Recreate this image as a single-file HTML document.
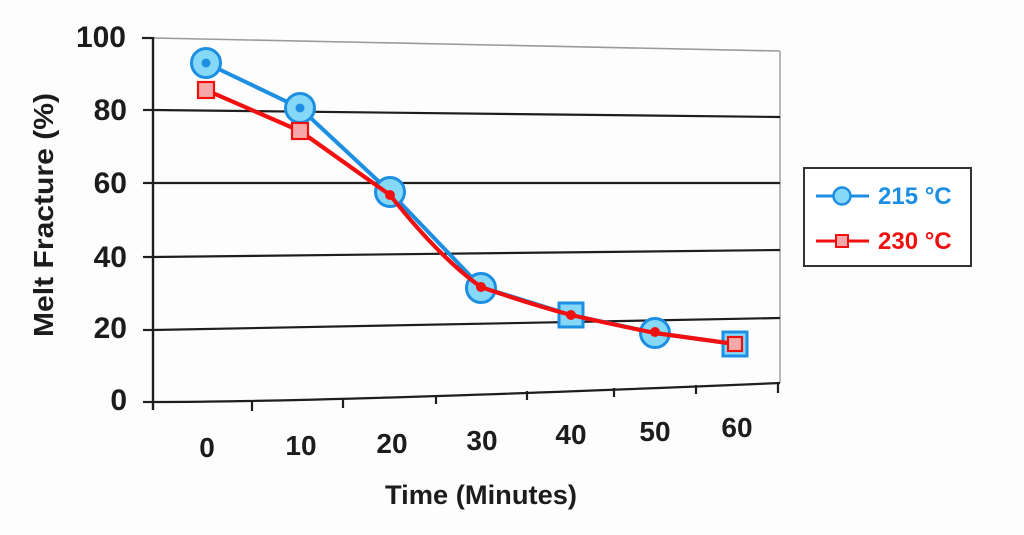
<!DOCTYPE html>
<html>
<head>
<meta charset="utf-8">
<style>
  html, body { margin:0; padding:0; background:#fdfdfd; }
  body { width:1024px; height:535px; overflow:hidden; }
  svg { display:block; }
  text { font-family: "Liberation Sans", Arial, sans-serif; font-weight:bold; }
</style>
</head>
<body>
<svg width="1024" height="535" viewBox="0 0 1024 535" xmlns="http://www.w3.org/2000/svg">
  <rect x="0" y="0" width="1024" height="535" fill="#fdfdfd"/>

  <!-- top border (100) and right border -->
  <line x1="153" y1="38" x2="780" y2="51" stroke="#9a9a9a" stroke-width="1.6"/>
  <line x1="780" y1="51" x2="780" y2="383" stroke="#a8a8a8" stroke-width="1.6"/>

  <!-- gridlines -->
  <line x1="153" y1="110" x2="780" y2="117" stroke="#1e1e1e" stroke-width="2.2"/>
  <line x1="153" y1="183" x2="780" y2="183" stroke="#1e1e1e" stroke-width="2.2"/>
  <line x1="153" y1="257" x2="780" y2="250" stroke="#1e1e1e" stroke-width="2.2"/>
  <path d="M153,330 Q420,324 780,318" fill="none" stroke="#1e1e1e" stroke-width="2.2"/>
  <!-- x axis -->
  <path d="M153,402 Q330,402 780,383" fill="none" stroke="#1e1e1e" stroke-width="2.2"/>

  <!-- y axis -->
  <line x1="153" y1="37" x2="153" y2="410" stroke="#1e1e1e" stroke-width="2.4"/>
  <!-- y ticks -->
  <g stroke="#1e1e1e" stroke-width="2.2">
    <line x1="142" y1="38" x2="153" y2="38"/>
    <line x1="143" y1="110" x2="153" y2="110"/>
    <line x1="143" y1="183" x2="153" y2="183"/>
    <line x1="143" y1="257" x2="153" y2="257"/>
    <line x1="143" y1="330" x2="153" y2="330"/>
    <line x1="143" y1="402" x2="153" y2="402"/>
  </g>
  <!-- x ticks -->
  <g stroke="#1e1e1e" stroke-width="2.2">
    <line x1="252" y1="402" x2="252" y2="411"/>
    <line x1="343" y1="399" x2="343" y2="408"/>
    <line x1="436" y1="395" x2="436" y2="404"/>
    <line x1="527" y1="391" x2="527" y2="400"/>
    <line x1="614" y1="388" x2="614" y2="397"/>
    <line x1="696" y1="385" x2="696" y2="394"/>
    <line x1="778" y1="383" x2="778" y2="393"/>
  </g>

  <!-- y tick labels -->
  <g font-size="30" fill="#1c1c1c" text-anchor="end">
    <text x="126" y="47">100</text>
    <text x="127" y="120">80</text>
    <text x="127" y="193">60</text>
    <text x="127" y="267">40</text>
    <text x="127" y="338">20</text>
    <text x="127" y="410">0</text>
  </g>

  <!-- x tick labels -->
  <g font-size="28" fill="#1c1c1c" text-anchor="middle">
    <text x="207" y="457">0</text>
    <text x="301" y="455">10</text>
    <text x="392" y="453">20</text>
    <text x="482" y="450">30</text>
    <text x="571" y="444">40</text>
    <text x="655" y="441">50</text>
    <text x="737" y="437">60</text>
  </g>

  <!-- axis titles -->
  <text x="385" y="504" font-size="27" fill="#1c1c1c" textLength="192" lengthAdjust="spacingAndGlyphs">Time (Minutes)</text>
  <text transform="translate(53,337) rotate(-90)" font-size="28" fill="#1c1c1c" textLength="244" lengthAdjust="spacingAndGlyphs">Melt Fracture (%)</text>

  <!-- 215 series (blue) -->
  <polyline points="206,63 300,108 390,192 481,287 571,315 655,333 735,344" fill="none" stroke="#1c8fe2" stroke-width="4" stroke-linejoin="round"/>
  <g fill="#86d8f7" stroke="#1c8fe2" stroke-width="3">
    <circle cx="206" cy="63" r="14.5"/>
    <circle cx="300" cy="108" r="14.5"/>
    <circle cx="390" cy="192" r="14.5"/>
    <circle cx="481" cy="288" r="14.5"/>
    <rect x="559" y="303" width="24" height="24"/>
    <circle cx="655" cy="333" r="14.5"/>
    <rect x="723" y="332" width="24" height="24"/>
  </g>
  <g fill="#1c8fe2">
    <circle cx="206" cy="63" r="4.5"/>
    <circle cx="300" cy="108" r="4.5"/>
  </g>

  <!-- 230 series (red) -->
  <path d="M206,90 L300,131 L390,195 Q440,258 481,287 Q530,304 571,315 Q620,326 655,333 L735,344" fill="none" stroke="#f01010" stroke-width="4.2" stroke-linejoin="round"/>
  <g fill="#f7a9a9" stroke="#f01010" stroke-width="2.2">
    <rect x="198" y="82" width="16" height="16"/>
    <rect x="292" y="123" width="16" height="16"/>
    <rect x="728" y="337" width="14" height="14"/>
  </g>
  <g fill="#f01010">
    <circle cx="390" cy="195" r="5"/>
    <circle cx="481" cy="287" r="5"/>
    <circle cx="571" cy="315" r="5"/>
    <circle cx="655" cy="332" r="5"/>
  </g>

  <!-- legend -->
  <rect x="804" y="168" width="167" height="98" fill="#fff" stroke="#333" stroke-width="2"/>
  <line x1="816" y1="196" x2="869" y2="196" stroke="#1c8fe2" stroke-width="3"/>
  <circle cx="842" cy="196" r="8.5" fill="#86d8f7" stroke="#1c8fe2" stroke-width="2.5"/>
  <text x="878" y="204" font-size="24" fill="#1c8fe2">215 °C</text>
  <line x1="816" y1="241" x2="869" y2="241" stroke="#f01010" stroke-width="3"/>
  <rect x="836" y="235" width="12" height="12" fill="#f7a9a9" stroke="#f01010" stroke-width="2"/>
  <text x="878" y="249" font-size="24" fill="#f01010">230 °C</text>
</svg>
</body>
</html>
